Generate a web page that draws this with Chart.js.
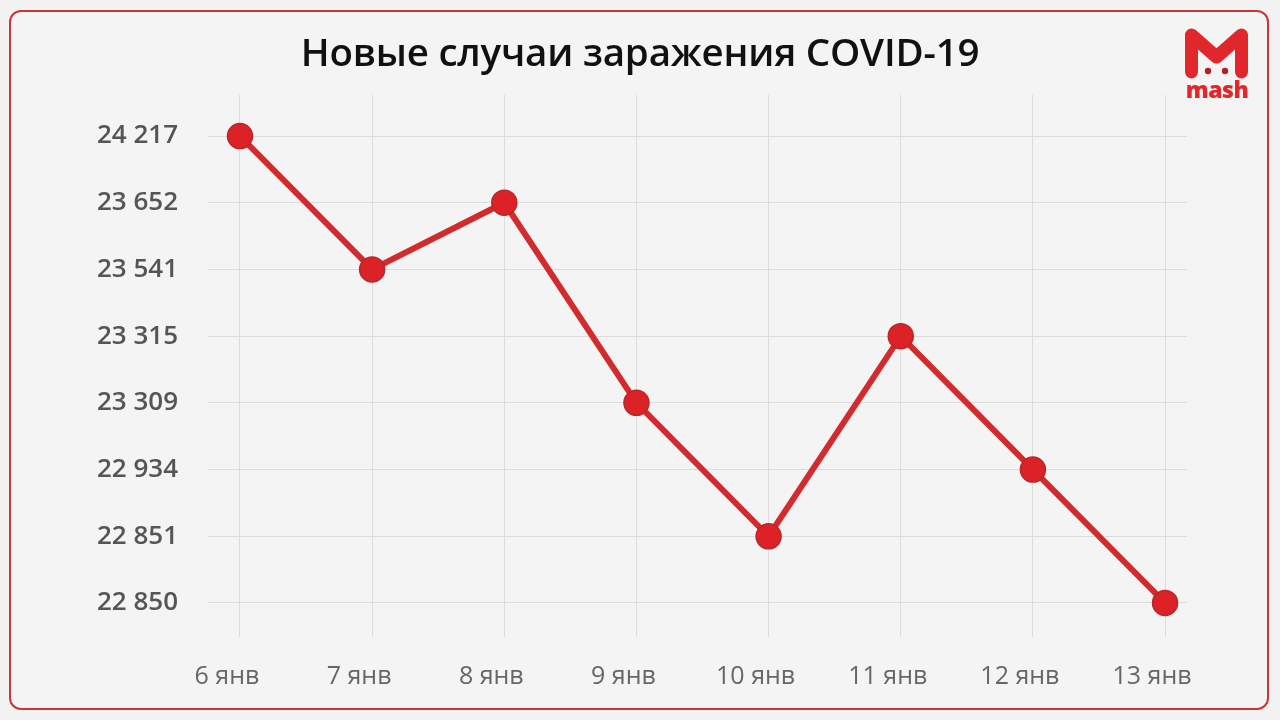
<!DOCTYPE html>
<html>
<head>
<meta charset="utf-8">
<script src="https://cdn.jsdelivr.net/npm/chart.js@4/dist/chart.umd.min.js"></script>
<style>
  html, body { margin: 0; padding: 0; background: #f2f2f2; }
  #wrap { position: relative; width: 1280px; height: 720px; overflow: hidden; }
  #card { position: absolute; left: 9px; top: 10px; width: 1256px; height: 696px;
          border: 2.5px solid #c9353a; border-radius: 12px; background: #f4f4f4; }
  canvas { position: absolute; left: 0; top: 0; }
  #title { position: absolute; left: 0; top: 26px; width: 1280px; text-align: center;
           font-family: "Open Sans", sans-serif; font-weight: 600; font-size: 38.5px; line-height: 50px;
           color: #111111; letter-spacing: -0.2px; }
  #logoSvg { position: absolute; left: 0; top: 0; }
  #logoText { position: absolute; left: 1178px; top: 77px; width: 78px; text-align: center; color: #e1262c;
              font-family: "Open Sans", sans-serif; font-size: 23px; font-weight: 800; line-height: 24px; letter-spacing: -0.5px; }
</style>
</head>
<body>
<div id="wrap">
  <div id="card"></div>
  <canvas id="c" width="1280" height="720"></canvas>
  <div id="title"></div>
  <svg id="logoSvg" width="1280" height="120">
    <path d="M1191.5 72 L1191.5 35 L1216.5 57 L1241.5 35 L1241.5 72" fill="none" stroke="#e1262c"
          stroke-width="13" stroke-linejoin="round" stroke-linecap="round"/>
    <circle cx="1208" cy="71" r="3.2" fill="#b51e24"/>
    <circle cx="1225" cy="71" r="3.2" fill="#b51e24"/>
  </svg>
  <div id="logoText">mash</div>
</div>
<script>
// ---- data ----
const title = 'Новые случаи заражения COVID-19';
const days = ['6 янв', '7 янв', '8 янв', '9 янв', '10 янв', '11 янв', '12 янв', '13 янв'];
const cases = [24217, 23541, 23652, 23309, 22851, 23315, 22934, 22850];
// y axis is an ordinal axis: each tick is one of these values (bottom to top)
const yTickValues = [22850, 22851, 22934, 23309, 23315, 23541, 23652, 24217];
const yTickLabels = ['22 850', '22 851', '22 934', '23 309', '23 315', '23 541', '23 652', '24 217'];

document.getElementById('title').textContent = title;

const points = cases.map((v, i) => ({ x: i, y: yTickValues.indexOf(v) }));

new Chart(document.getElementById('c'), {
  type: 'line',
  data: {
    datasets: [{
      data: points,
      borderColor: '#d32a2d',
      borderWidth: 6,
      pointRadius: 12.5,
      pointHoverRadius: 12.5,
      pointBackgroundColor: '#dc2226',
      pointBorderColor: '#b9272b',
      pointBorderWidth: 1.5,
      tension: 0,
      clip: false
    }]
  },
  options: {
    responsive: false,
    animation: false,
    events: [],
    layout: { padding: { left: 20, right: 93, top: 95, bottom: 20 } },
    plugins: {
      legend: { display: false },
      tooltip: { enabled: false },
      title: { display: false }
    },
    scales: {
      x: {
        type: 'linear',
        min: -0.242,
        max: 7.166,
        afterBuildTicks: s => { s.ticks = days.map((_, i) => ({ value: i })); },
        afterFit: s => { s.height = 63; },
        grid: { color: '#dcdcdc', lineWidth: 1, drawTicks: false },
        border: { display: false },
        ticks: {
          padding: 25,
          labelOffset: -13,
          color: '#666666',
          font: { family: 'Open Sans', size: 25 },
          maxRotation: 0,
          autoSkip: false,
          callback: v => days[v]
        }
      },
      y: {
        type: 'linear',
        min: -0.51,
        max: 7.615,
        afterBuildTicks: s => { s.ticks = yTickValues.map((_, i) => ({ value: i })); },
        afterFit: s => { s.width = 188; },
        grid: { color: '#dcdcdc', lineWidth: 1, drawTicks: false },
        border: { display: false },
        ticks: {
          padding: 30,
          color: '#555555',
          font: { family: 'Open Sans', size: 26, weight: '600' },
          autoSkip: false,
          callback: v => yTickLabels[v]
        }
      }
    }
  }
});
</script>
</body>
</html>
